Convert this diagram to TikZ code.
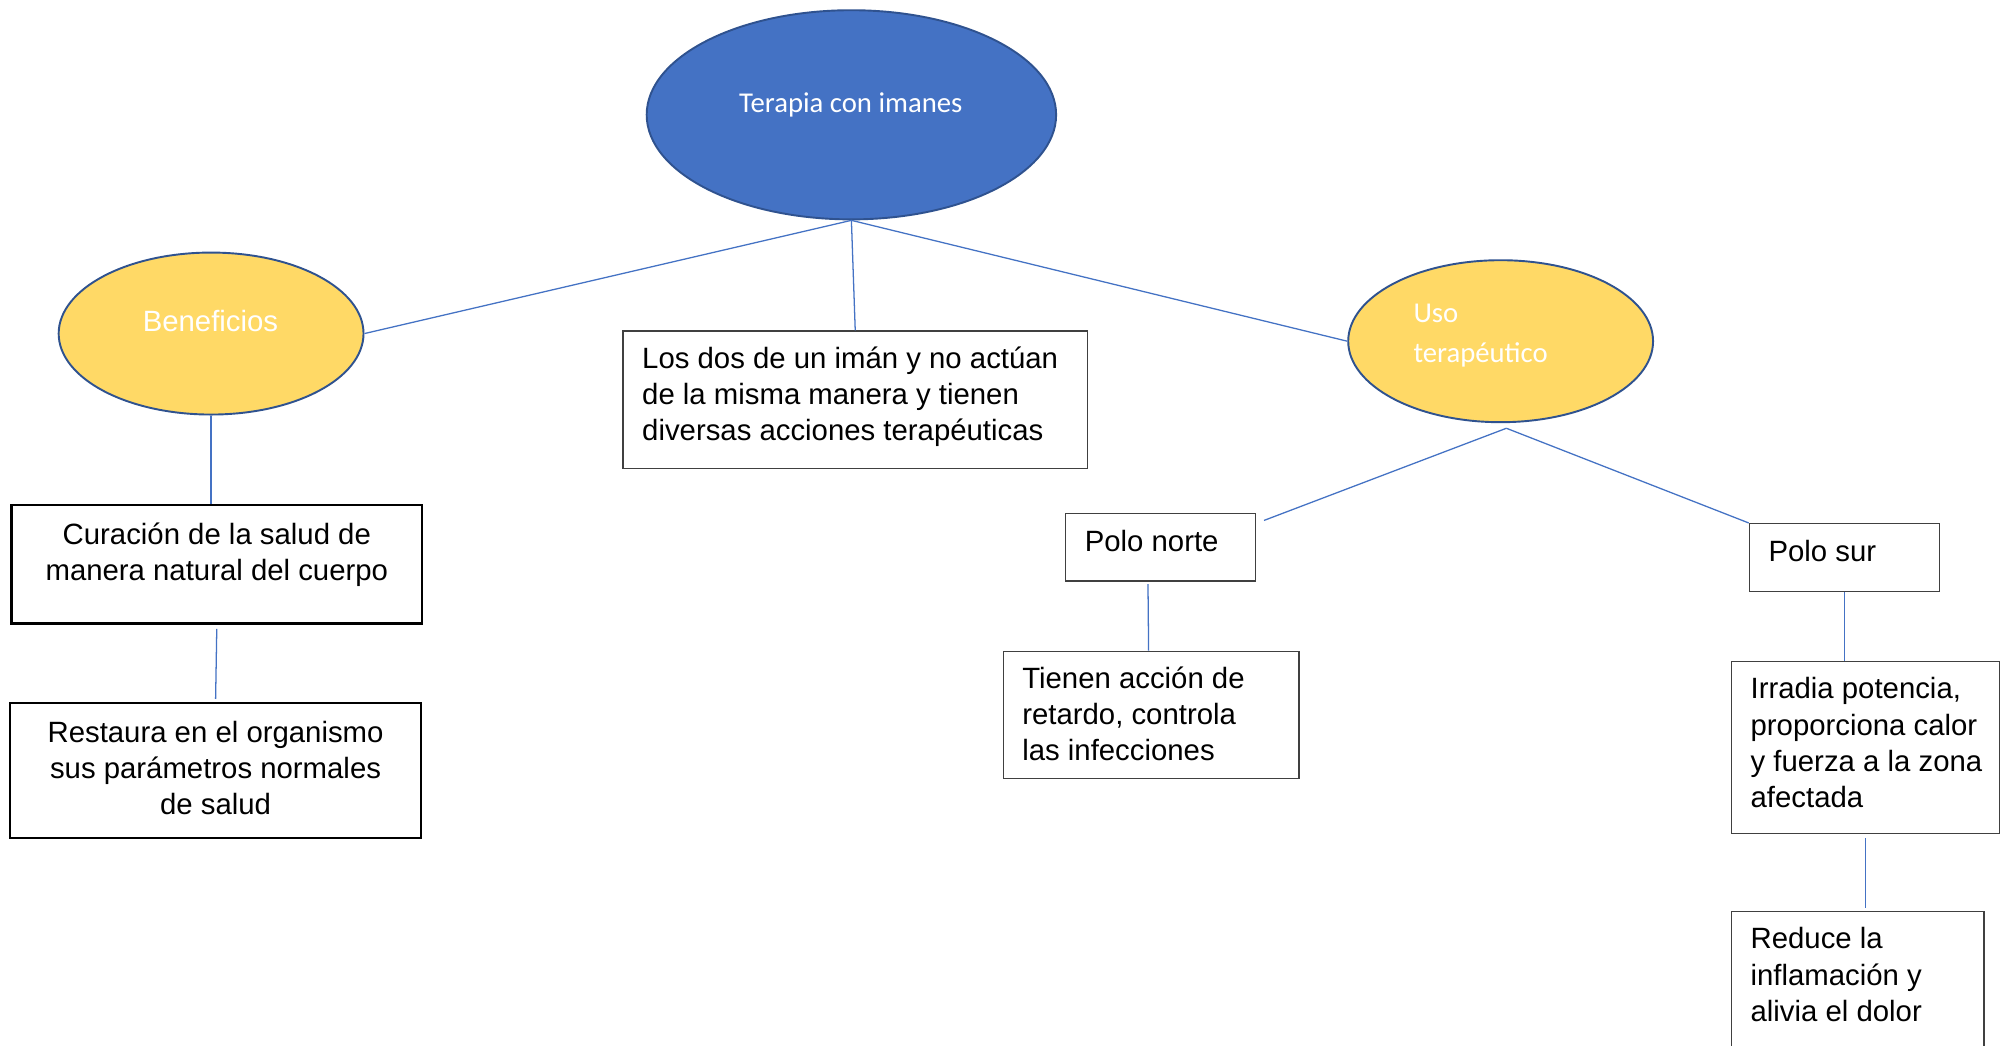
\documentclass[tikz,border=0pt]{standalone}
\usepackage{fontspec}
\setmainfont{Liberation Sans}
\newfontfamily\calf{Carlito}
\usetikzlibrary{shapes.geometric,calc}
\definecolor{blueF}{HTML}{4472C4}
\definecolor{blueD}{HTML}{2F528F}
\definecolor{yel}{HTML}{FFD966}
\definecolor{boxD}{HTML}{404040}
\definecolor{lineB}{HTML}{4472C4}
\newcommand{\lboxtxt}[3]{\parbox[c][#2pt][t]{#1pt}{\raggedright\leftskip=15pt\relax\rule{0pt}{29.5pt}#3}}
\newcommand{\cboxtxt}[4]{\parbox[c][#2pt][t]{#1pt}{\centering\rule{0pt}{#3pt}#4}}
\tikzset{
  ell/.style={ellipse, draw=blueD, line width=1.5pt, inner sep=0pt},
  txtbox/.style={draw=boxD, line width=1pt, rectangle, inner sep=0pt, anchor=north west, font=\fontsize{23}{28.3}\selectfont},
  bbox/.style={txtbox, draw=black, line width=2pt},
  conn/.style={draw=lineB, line width=1pt},
  wtxt/.style={text=white, inner sep=0pt}
}
\begin{document}
\begin{tikzpicture}[x=1pt,y=-1pt]
\useasboundingbox (0,0) rectangle (1568,820);
\fill[white] (0,0) rectangle (1568,820);
\clip (0,0) rectangle (1568,820);

% ellipses
\node[ell, fill=blueF, minimum width=321pt, minimum height=164pt] (terapia) at (667.5,90) {};
\node[wtxt, anchor=base, font=\calf\fontsize{22.5}{28}\selectfont] (terapiaT) at (667,88.5) {Terapia con imanes};

\node[ell, fill=yel, minimum width=239pt, minimum height=127pt] (benef) at (165.5,261.5) {};
\node[wtxt, anchor=base, font=\fontsize{23}{28}\selectfont] (benefT) at (165,260) {Beneficios};

\node[ell, fill=yel, minimum width=239pt, minimum height=127pt] (uso) at (1176.5,267.5) {};
\node[wtxt, anchor=north west, font=\calf\fontsize{22.5}{31}\selectfont] (usoT) at (1108,233) {\parbox[t]{150pt}{\rule{0pt}{20pt}Uso\\terapéutico}};

% boxes
\node[txtbox] (losdos) at (488,259) {\lboxtxt{364}{108}{Los dos de un imán y no actúan\\de la misma manera y tienen\\diversas acciones terapéuticas}};
\node[bbox] (curacion) at (8,395) {\cboxtxt{322}{93}{31}{Curación de la salud de\\manera natural del cuerpo}};
\node[bbox] (restaura) at (7,550) {\cboxtxt{322}{106}{31}{Restaura en el organismo\\sus parámetros normales\\de salud}};
\node[txtbox] (polonorte) at (835,402) {\lboxtxt{149}{53}{Polo norte}};
\node[txtbox] (tienen) at (786,510) {\lboxtxt{232}{100}{Tienen acción de\\retardo, controla\\las infecciones}};
\node[txtbox] (polosur) at (1371,410) {\lboxtxt{149}{53}{Polo sur}};
\node[txtbox] (irradia) at (1357,518) {\lboxtxt{210}{135}{Irradia potencia,\\proporciona calor\\y fuerza a la zona\\afectada}};
\node[txtbox] (reduce) at (1357,714) {\lboxtxt{198}{130}{Reduce la\\inflamación y\\alivia el dolor}};

% connectors
\draw[conn] (terapia.south) -- (benef.east);
\draw[conn] (terapia.south) -- (losdos.north);
\draw[conn] (terapia.south) -- (uso.west);
\draw[conn] (benef.south) -- (benef.south |- curacion.north);
\draw[conn, shorten <=3pt, shorten >=2pt] (curacion.south) -- (restaura.north);
\coordinate (usoapex) at ($(uso.south)+(4.5,4)$);
\coordinate (pnend) at ($(polonorte.north east)+(6,6)$);
\draw[conn] (usoapex) -- (pnend);
\draw[conn] (usoapex) -- (polosur.north west);
\draw[conn, shorten <=2pt] ($(polonorte.south)+(-10,0)$) -- ($(tienen.north)+(-2,0)$);
\draw[conn] (polosur.south) -- (polosur.south |- irradia.north);
\draw[conn, shorten <=3pt, shorten >=2pt] (irradia.south) -- (irradia.south |- reduce.north);
\end{tikzpicture}
\end{document}
